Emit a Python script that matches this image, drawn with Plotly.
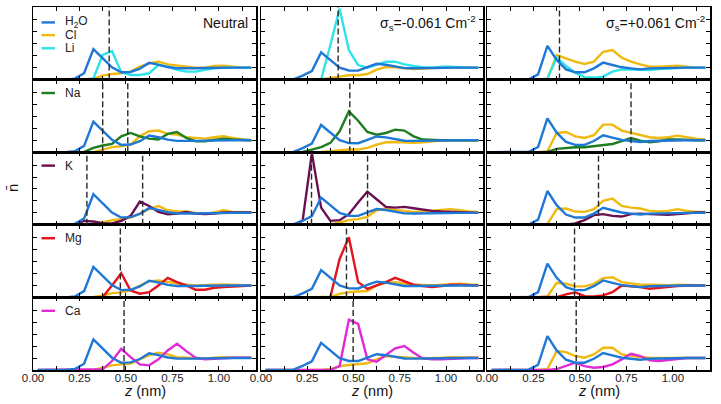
import plotly.graph_objects as go
from plotly.subplots import make_subplots

# ---------------- data ----------------
z = [0.025, 0.075, 0.125, 0.175, 0.225, 0.275, 0.325, 0.375, 0.425, 0.475, 0.525, 0.575,
     0.625, 0.675, 0.725, 0.775, 0.825, 0.875, 0.925, 0.975, 1.025, 1.075, 1.125, 1.175]

conditions = ["Neutral", "σ<sub>s</sub>=-0.061 Cm<sup>-2</sup>", "σ<sub>s</sub>=+0.061 Cm<sup>-2</sup>"]
cations = ["Li", "Na", "K", "Mg", "Ca"]

# water density profile, one per surface condition
h2o_neutral = [0, 0, 0, 0, 0.08, 0.53, 2.56, 1.76, 1.03, 0.61, 0.64, 0.92, 1.4, 1.25, 1.05, 0.95, 0.93, 0.95, 0.97, 1.0, 1.0, 1.0, 1.0, 1.0]
h2o_negative = [0, 0, 0, 0.03, 0.34, 0.72, 2.28, 1.62, 1.0, 0.76, 0.75, 1.04, 1.32, 1.24, 1.07, 0.96, 0.95, 0.97, 1.0, 1.02, 1.02, 1.0, 1.0, 1.0]
h2o_positive = [0, 0, 0, 0, 0.03, 0.44, 2.83, 1.64, 0.86, 0.61, 0.61, 0.94, 1.42, 1.22, 1.03, 0.94, 0.86, 0.94, 0.97, 1.0, 1.0, 1.0, 1.0, 1.0]

# Cl profiles (row = cation, column = condition)
cl_li_neutral = [0, 0, 0, 0, 0, 0, 0.08, 0.33, 0.47, 0.53, 0.67, 1.08, 1.36, 1.5, 1.28, 1.17, 1.08, 1.0, 1.0, 1.14, 1.17, 1.08, 1.0, 1.0]
cl_na_neutral = [0, 0, 0, 0, 0, 0, 0, 0.22, 0.42, 0.5, 0.64, 1.33, 1.75, 1.81, 1.53, 1.47, 1.25, 1.2, 1.14, 1.25, 1.33, 1.2, 1.06, 1.0]
cl_k_neutral = [0, 0, 0, 0, 0, 0, 0, 0.19, 0.39, 0.47, 0.61, 0.94, 1.31, 1.58, 1.22, 1.11, 1.11, 1.0, 0.94, 1.03, 1.22, 1.08, 1.03, 1.03]
cl_mg_neutral = [0, 0, 0, 0, 0, 0, 0.03, 0.14, 0.36, 0.42, 0.58, 1.0, 1.33, 1.42, 1.28, 1.14, 1.06, 1.0, 1.0, 1.06, 1.08, 1.06, 1.0, 1.0]
cl_ca_neutral = [0, 0, 0, 0, 0, 0, 0, 0.2, 0.39, 0.47, 0.53, 0.89, 1.25, 1.44, 1.31, 1.08, 1.03, 0.97, 0.94, 1.03, 1.08, 1.03, 1.03, 1.03]

cl_li_negative = [0, 0, 0, 0, 0, 0, 0, 0.14, 0.28, 0.36, 0.36, 0.47, 0.83, 1.06, 1.03, 0.97, 0.89, 0.92, 0.97, 1.03, 1.06, 1.0, 1.0, 1.0]
cl_na_negative = [0, 0, 0, 0, 0, 0, 0.03, 0.08, 0.17, 0.22, 0.22, 0.36, 0.64, 0.83, 0.86, 0.83, 0.78, 0.83, 0.92, 0.97, 1.0, 1.0, 1.0, 1.0]
cl_k_negative = [0, 0, 0, 0, 0, 0, 0, 0.06, 0.19, 0.39, 0.47, 0.67, 1.22, 1.36, 1.25, 1.17, 1.08, 1.11, 1.17, 1.22, 1.31, 1.22, 1.11, 1.08]
cl_mg_negative = [0, 0, 0, 0, 0, 0, 0, 0.03, 0.3, 0.44, 0.5, 0.53, 1.0, 1.22, 1.28, 1.14, 1.08, 1.06, 1.0, 1.06, 1.08, 1.14, 1.08, 1.06]
cl_ca_negative = [0, 0, 0, 0, 0, 0, 0, 0.08, 0.33, 0.42, 0.47, 0.56, 0.89, 1.17, 1.11, 1.03, 1.0, 0.97, 0.97, 1.03, 1.08, 1.08, 1.03, 1.03]

cl_li_positive = [0, 0, 0, 0, 0, 0, 0.08, 2.06, 1.78, 1.5, 1.31, 1.5, 2.33, 2.47, 1.83, 1.5, 1.28, 1.08, 1.08, 1.14, 1.17, 1.08, 1.0, 1.0]
cl_na_positive = [0, 0, 0, 0, 0, 0, 0.08, 1.61, 1.69, 1.33, 1.19, 1.42, 2.31, 2.31, 1.81, 1.61, 1.47, 1.25, 1.19, 1.25, 1.39, 1.25, 1.14, 1.06]
cl_k_positive = [0, 0, 0, 0, 0, 0, 0.06, 1.31, 1.36, 1.11, 1.08, 1.31, 2.0, 2.19, 1.58, 1.44, 1.36, 1.17, 1.11, 1.17, 1.31, 1.17, 1.08, 1.08]
cl_mg_positive = [0, 0, 0, 0, 0, 0, 0.08, 1.22, 1.14, 0.94, 0.92, 1.14, 1.61, 1.69, 1.28, 1.14, 1.06, 1.06, 1.03, 1.03, 1.06, 1.03, 1.0, 1.0]
cl_ca_positive = [0, 0, 0, 0, 0, 0, 0.08, 1.58, 1.5, 1.17, 1.03, 1.31, 1.86, 1.86, 1.31, 1.17, 1.08, 1.03, 1.0, 1.0, 1.0, 1.0, 1.0, 1.0]

# cation profiles
li_neutral = [0, 0, 0, 0, 0, 0, 0.1, 2.06, 2.39, 0.61, 0.39, 0.39, 0.53, 1.22, 1.08, 0.81, 0.67, 0.67, 0.81, 0.94, 1.0, 1.0, 1.0, 1.0]
na_neutral = [0, 0, 0, 0, 0, 0.03, 0.36, 0.56, 0.69, 1.33, 1.61, 1.33, 1.14, 1.06, 1.53, 1.69, 1.19, 0.92, 0.92, 1.06, 1.14, 1.06, 1.06, 1.0]
k_neutral = [0, 0, 0, 0, 0.06, 0.33, 0.28, 0.14, 0.11, 0.33, 0.75, 1.94, 1.58, 1.08, 0.89, 0.94, 1.08, 0.94, 0.89, 0.94, 1.03, 1.03, 1.03, 1.03]
mg_neutral = [0, 0, 0, 0, 0, 0, 0, 0.03, 1.0, 2.03, 0.58, 0.31, 0.44, 1.0, 1.64, 1.28, 1.0, 0.64, 0.64, 0.81, 0.86, 0.92, 1.0, 1.0]
ca_neutral = [0, 0, 0, 0, 0, 0, 0, 0.06, 0.75, 1.78, 1.08, 0.47, 0.39, 0.89, 1.64, 2.19, 1.58, 1.03, 0.89, 0.94, 1.03, 1.03, 1.03, 1.03]

li_negative = [0, 0, 0, 0, 0, 0, 0, 2.9, 5.94, 2.47, 1.22, 1.0, 1.22, 1.5, 1.5, 1.28, 1.14, 1.03, 1.0, 1.08, 1.08, 1.03, 1.0, 1.0]
na_negative = [0, 0, 0, 0, 0.03, 0.22, 0.42, 0.78, 1.75, 3.42, 2.64, 1.69, 1.47, 1.61, 1.89, 1.81, 1.33, 1.06, 1.0, 1.0, 1.0, 1.0, 1.0, 1.0]
k_negative = [0, 0, 0, 0, 0.35, 6.0, 1.44, 0.33, 0.39, 0.89, 1.86, 2.78, 2.14, 1.5, 1.44, 1.5, 1.39, 1.25, 1.17, 1.11, 1.08, 1.03, 1.03, 1.0]
mg_negative = [0, 0, 0, 0, 0, 0, 0, 0.03, 3.22, 5.03, 1.28, 0.72, 1.0, 1.28, 1.64, 1.36, 1.06, 0.94, 0.86, 0.94, 1.06, 1.06, 1.0, 1.0]
ca_negative = [0, 0, 0, 0, 0, 0, 0, 0.0, 0.33, 4.22, 3.86, 0.89, 0.69, 1.25, 1.81, 2.0, 1.44, 0.97, 0.89, 0.89, 0.94, 1.0, 1.0, 1.0]

li_positive = [0, 0, 0, 0, 0, 0, 0.08, 1.83, 1.14, 0.58, 0.19, 0.17, 0.25, 0.67, 0.86, 0.86, 0.81, 0.81, 0.89, 0.94, 1.0, 1.0, 1.0, 1.0]
na_positive = [0, 0, 0, 0, 0, 0, 0.03, 0.28, 0.36, 0.42, 0.42, 0.5, 0.58, 0.69, 0.92, 1.19, 0.97, 0.83, 0.92, 1.06, 1.06, 1.0, 1.0, 1.0]
k_positive = [0, 0, 0, 0, 0, 0, 0, 0, 0, 0.11, 0.39, 0.81, 0.89, 0.75, 0.69, 0.89, 0.94, 0.89, 0.83, 0.83, 0.89, 0.97, 1.03, 1.03]
mg_positive = [0, 0, 0, 0, 0, 0, 0, 0.03, 0.25, 0.42, 0.11, 0.08, 0.17, 0.44, 1.0, 0.94, 0.86, 0.72, 0.81, 0.86, 0.94, 1.0, 1.0, 1.0]
ca_positive = [0, 0, 0, 0, 0, 0, 0, 0.08, 0.33, 0.61, 0.33, 0.19, 0.25, 0.47, 0.89, 1.36, 1.17, 0.81, 0.75, 0.83, 0.97, 1.0, 1.0, 1.0]

# cation peak positions (dashed markers), nm
peaks_neutral = [[0.41], [0.375, 0.51], [0.29, 0.59], [0.47], [0.49]]
peaks_negative = [[0.417], [0.48], [0.273, 0.576], [0.462], [0.498]]
peaks_positive = [[0.39], [0.775], [0.60], [0.471], [0.48]]

x_ticks = [0.0, 0.25, 0.5, 0.75, 1.0]
x_ticktext = ["0.00", "0.25", "0.50", "0.75", "1.00"]
x_minor_ticks = [0.125, 0.375, 0.625, 0.875, 1.125]

# ---------------- assembly ----------------
h2o = [h2o_neutral, h2o_negative, h2o_positive]
cl = [
    [cl_li_neutral, cl_li_negative, cl_li_positive],
    [cl_na_neutral, cl_na_negative, cl_na_positive],
    [cl_k_neutral, cl_k_negative, cl_k_positive],
    [cl_mg_neutral, cl_mg_negative, cl_mg_positive],
    [cl_ca_neutral, cl_ca_negative, cl_ca_positive],
]
cat = [
    [li_neutral, li_negative, li_positive],
    [na_neutral, na_negative, na_positive],
    [k_neutral, k_negative, k_positive],
    [mg_neutral, mg_negative, mg_positive],
    [ca_neutral, ca_negative, ca_positive],
]
peaks = [peaks_neutral, peaks_negative, peaks_positive]

C_H2O = "#1f78d6"
C_CL = "#efb90f"
CAT_COLORS = {"Li": "#2fe3ea", "Na": "#1d7d1f", "K": "#6a1050", "Mg": "#e3141b", "Ca": "#e12ad6"}
FONT = "Liberation Sans, Arial, sans-serif"
LW = 2.4

W, H = 721, 404
ML, MR, MT, MB = 33, 11, 5, 34
PW, PH = W - ML - MR, H - MT - MB
col_px = [(33, 256), (261, 483), (487, 710)]
row_px = [(5, 78), (78, 151), (151, 224), (224, 297), (297, 370)]
YMAX = 6.08

fig = make_subplots(rows=5, cols=3, horizontal_spacing=0.006, vertical_spacing=0.0)

for r in range(5):
    for c in range(3):
        col = CAT_COLORS[cations[r]]
        fig.add_trace(go.Scatter(x=z, y=cl[r][c], mode="lines", line=dict(color=C_CL, width=LW),
                                 showlegend=False, hoverinfo="skip"), row=r + 1, col=c + 1)
        fig.add_trace(go.Scatter(x=z, y=cat[r][c], mode="lines", line=dict(color=col, width=LW),
                                 showlegend=False, hoverinfo="skip"), row=r + 1, col=c + 1)
        fig.add_trace(go.Scatter(x=z, y=h2o[c], mode="lines", line=dict(color=C_H2O, width=LW),
                                 showlegend=False, hoverinfo="skip"), row=r + 1, col=c + 1)
        idx = r * 3 + c + 1
        xn = "x" if idx == 1 else f"x{idx}"
        yn = "y" if idx == 1 else f"y{idx}"
        for p in peaks[c][r]:
            fig.add_shape(type="line", xref=xn, yref=f"{yn} domain", x0=p, x1=p, y0=0, y1=1,
                          line=dict(color="#2a2a2a", width=1.4, dash="6px,3px"))
        x0, x1 = col_px[c]
        y0, y1 = row_px[r]
        fig.update_xaxes(row=r + 1, col=c + 1,
                         domain=[(x0 - ML) / PW, (x1 - ML) / PW],
                         range=[0, 1.2], tickmode="array", tickvals=x_ticks, ticktext=x_ticktext,
                         ticks="inside", ticklen=4, tickwidth=1, tickcolor="black",
                         minor=dict(ticks="inside", ticklen=4, tickwidth=1, tickcolor="black",
                                    tickvals=x_minor_ticks),
                         showline=True, linewidth=1.5, linecolor="black", mirror="ticks",
                         showgrid=False, zeroline=False,
                         showticklabels=(r == 4), ticklabelstandoff=-3,
                         tickfont=dict(family=FONT, size=11.5, color="#222"))
        fig.update_yaxes(row=r + 1, col=c + 1,
                         domain=[(MT + PH - y1) / PH, (MT + PH - y0) / PH],
                         range=[0, YMAX], dtick=1, tick0=0,
                         ticks="inside", ticklen=4, tickwidth=1, tickcolor="black",
                         showline=True, linewidth=1.5, linecolor="black", mirror="ticks",
                         showgrid=False, zeroline=False, showticklabels=False)

annotations = []


def add_legend_entry(r, label, color, ypx):
    x0, x1 = col_px[0]
    wdt = x1 - x0
    ry0, ry1 = row_px[r]
    yd = 1 - (ypx - ry0) / (ry1 - ry0)
    xr = "x domain" if r == 0 else f"x{r*3+1} domain"
    yr = "y domain" if r == 0 else f"y{r*3+1} domain"
    fig.add_shape(type="line", xref=xr, yref=yr,
                  x0=8.5 / wdt, x1=22 / wdt, y0=yd, y1=yd, line=dict(color=color, width=LW))
    annotations.append(dict(xref=xr, yref=yr, x=29.5 / wdt, y=yd, text=label, showarrow=False,
                            xanchor="left", yanchor="middle",
                            font=dict(family=FONT, size=12, color="#222")))


add_legend_entry(0, "H<sub>2</sub>O", C_H2O, 20.5)
add_legend_entry(0, "Cl", C_CL, 33.3)
add_legend_entry(0, cations[0], CAT_COLORS[cations[0]], 46.5)
for r in range(1, 5):
    add_legend_entry(r, cations[r], CAT_COLORS[cations[r]], row_px[r][0] + 13.5)

# condition labels and x-axis titles
right_px = [250, 478, 707]
for c in range(3):
    x0, x1 = col_px[c]
    xn = "x" if c == 0 else f"x{c+1}"
    yn = "y" if c == 0 else f"y{c+1}"
    annotations.append(dict(xref=f"{xn} domain", yref=f"{yn} domain",
                            x=(right_px[c] - x0) / (x1 - x0), y=1 - 16.5 / 73,
                            text=conditions[c], showarrow=False, xanchor="right", yanchor="middle",
                            font=dict(family=FONT, size=14, color="#111")))
    annotations.append(dict(xref="paper", yref="paper",
                            x=((x0 + x1) / 2 - ML) / PW, y=-(391.5 - (MT + PH)) / PH,
                            text="<i>z</i> (nm)", showarrow=False, xanchor="center", yanchor="middle",
                            font=dict(family=FONT, size=14.5, color="#111")))

# y-axis label
annotations.append(dict(xref="paper", yref="paper", x=(12 - ML) / PW, y=(MT + PH - 187) / PH,
                        text="n\u0304", showarrow=False, textangle=-90,
                        xanchor="center", yanchor="middle",
                        font=dict(family=FONT, size=15, color="#111")))

fig.update_layout(width=W, height=H, margin=dict(l=ML, r=MR, t=MT, b=MB, pad=0),
                  plot_bgcolor="white", paper_bgcolor="white", showlegend=False,
                  annotations=annotations, font=dict(family=FONT))

fig.write_html("out.html", config={"displayModeBar": False, "staticPlot": True},
               post_script="document.body.style.margin='0';document.body.style.overflow='hidden';")
